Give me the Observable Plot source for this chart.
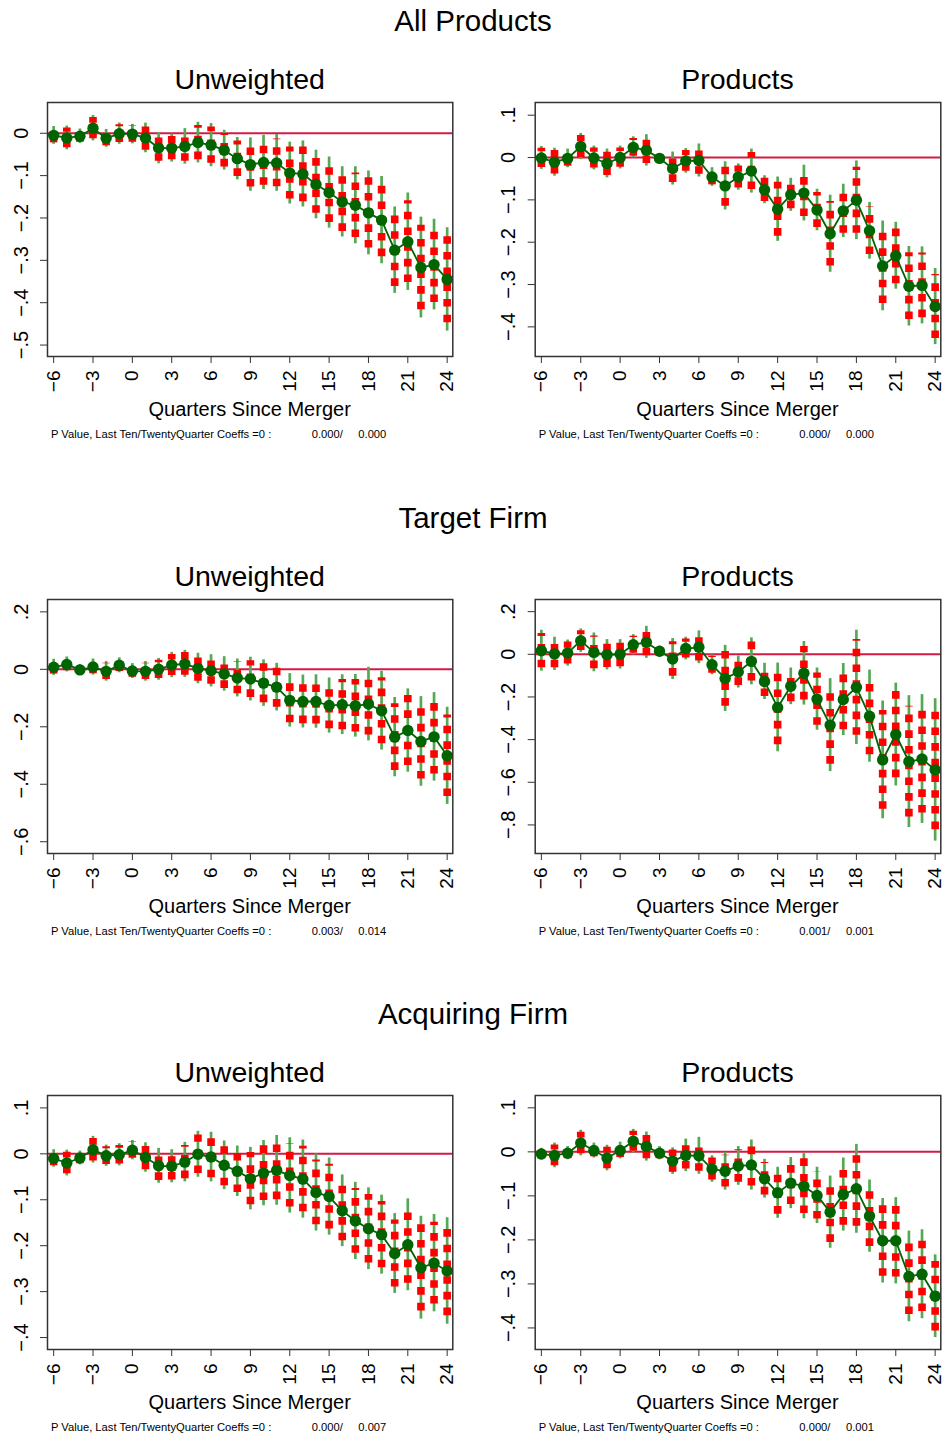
<!DOCTYPE html>
<html>
<head>
<meta charset="utf-8">
<script src="https://cdn.jsdelivr.net/npm/d3@7"></script>
<script src="https://cdn.jsdelivr.net/npm/@observablehq/plot@0.6"></script>
<style>
  html, body { margin: 0; padding: 0; background: #fff; }
  #root { position: relative; width: 942px; height: 1438px; overflow: hidden; font-family: "Liberation Sans", Arial, sans-serif; }
  #root svg { position: absolute; }
</style>
</head>
<body>
<div id="root"></div>
<script>
// ---------------- DATA ----------------
const quarters = [-6,-5,-4,-3,-2,-1,0,1,2,3,4,5,6,7,8,9,10,11,12,13,14,15,16,17,18,19,20,21,22,23,24];
const xTicks = [-6,-3,0,3,6,9,12,15,18,21,24];

const sectionTitles = ["All Products", "Target Firm", "Acquiring Firm"];
const panelTitles = ["Unweighted", "Products"];
const xLabel = "Quarters Since Merger";
const captionPrefix = "P Value, Last Ten/TwentyQuarter Coeffs =0 :";
const pValues = [["0.000","0.000"],["0.000","0.000"],["0.003","0.014"],["0.001","0.001"],["0.000","0.007"],["0.000","0.001"]];

// point estimates and 95% CI half-widths
const allUnwEst = [-0.005,-0.011,-0.007,0.012,-0.012,-0.001,-0.002,-0.011,-0.035,-0.035,-0.031,-0.022,-0.028,-0.040,-0.060,-0.074,-0.069,-0.070,-0.094,-0.096,-0.121,-0.140,-0.162,-0.170,-0.188,-0.205,-0.276,-0.256,-0.317,-0.310,-0.345];
const allUnwCI  = [0.021,0.028,0.017,0.030,0.021,0.025,0.023,0.035,0.037,0.033,0.042,0.048,0.051,0.047,0.050,0.063,0.064,0.067,0.073,0.078,0.081,0.084,0.083,0.091,0.099,0.103,0.102,0.115,0.119,0.107,0.122];
const allProdEst = [-0.001,-0.011,-0.002,0.026,-0.001,-0.014,0.000,0.024,0.017,-0.002,-0.026,-0.008,-0.007,-0.046,-0.067,-0.046,-0.032,-0.076,-0.122,-0.088,-0.084,-0.124,-0.180,-0.126,-0.101,-0.173,-0.256,-0.232,-0.304,-0.302,-0.352];
const allProdCI  = [0.027,0.033,0.022,0.031,0.028,0.034,0.027,0.025,0.037,0.010,0.039,0.029,0.039,0.022,0.057,0.031,0.052,0.033,0.076,0.039,0.066,0.049,0.091,0.063,0.093,0.067,0.106,0.079,0.094,0.091,0.090];
const tgtUnwEst = [0.007,0.017,-0.002,0.008,-0.007,0.014,-0.006,-0.007,0.000,0.015,0.019,0.003,-0.005,-0.016,-0.030,-0.034,-0.048,-0.062,-0.108,-0.112,-0.112,-0.126,-0.123,-0.127,-0.121,-0.144,-0.236,-0.213,-0.251,-0.235,-0.301];
const tgtUnwCI  = [0.028,0.026,0.019,0.028,0.034,0.026,0.026,0.034,0.038,0.044,0.047,0.053,0.056,0.060,0.066,0.076,0.081,0.083,0.093,0.092,0.093,0.096,0.104,0.109,0.128,0.137,0.138,0.145,0.156,0.154,0.169];
const tgtProdEst = [0.017,0.002,0.006,0.064,0.009,-0.002,0.000,0.045,0.056,0.014,-0.022,0.027,0.033,-0.049,-0.113,-0.083,-0.033,-0.127,-0.249,-0.150,-0.089,-0.210,-0.332,-0.212,-0.155,-0.290,-0.495,-0.376,-0.503,-0.491,-0.542];
const tgtProdCI  = [0.096,0.078,0.061,0.055,0.091,0.071,0.069,0.047,0.075,0.024,0.096,0.053,0.077,0.047,0.155,0.075,0.110,0.085,0.208,0.086,0.149,0.146,0.218,0.169,0.268,0.216,0.276,0.241,0.309,0.302,0.334];
const acqUnwEst = [-0.010,-0.020,-0.009,0.009,-0.004,-0.002,0.008,-0.008,-0.026,-0.027,-0.018,-0.001,-0.007,-0.025,-0.038,-0.054,-0.042,-0.036,-0.047,-0.055,-0.084,-0.093,-0.124,-0.146,-0.163,-0.176,-0.217,-0.198,-0.248,-0.238,-0.255];
const acqUnwCI  = [0.019,0.028,0.015,0.029,0.023,0.024,0.021,0.032,0.038,0.036,0.043,0.050,0.054,0.053,0.055,0.068,0.071,0.076,0.082,0.085,0.084,0.084,0.078,0.084,0.089,0.086,0.087,0.100,0.112,0.106,0.116];
const acqProdEst = [-0.005,-0.008,-0.003,0.020,0.003,-0.014,0.003,0.024,0.012,-0.003,-0.021,-0.008,-0.009,-0.039,-0.044,-0.032,-0.030,-0.061,-0.093,-0.071,-0.078,-0.099,-0.137,-0.097,-0.084,-0.146,-0.202,-0.202,-0.283,-0.278,-0.328];
const acqProdCI  = [0.013,0.028,0.015,0.029,0.017,0.029,0.019,0.027,0.033,0.015,0.030,0.037,0.042,0.030,0.043,0.044,0.057,0.044,0.058,0.058,0.074,0.064,0.082,0.083,0.101,0.082,0.096,0.098,0.103,0.101,0.094];

// y tick values per panel
const yTicksAllUnw  = [0,-0.1,-0.2,-0.3,-0.4,-0.5];
const yTicksAllProd = [0.1,0,-0.1,-0.2,-0.3,-0.4];
const yTicksTgtUnw  = [0.2,0,-0.2,-0.4,-0.6];
const yTicksTgtProd = [0.2,0,-0.2,-0.4,-0.6,-0.8];
const yTicksAcqUnw  = [0.1,0,-0.1,-0.2,-0.3,-0.4];
const yTicksAcqProd = [0.1,0,-0.1,-0.2,-0.3,-0.4];

// ---------------- LAYOUT / STYLE ----------------
const Z95 = 1.96, Z90 = 1.645;
const xDomain = [-6.47, 24.43];
const sectionOffsets = [0, 497, 993];
const panelSpecs = [
  {est: allUnwEst,  ci: allUnwCI,  yTicks: yTicksAllUnw,  yDomain: [-0.527, 0.0726]},
  {est: allProdEst, ci: allProdCI, yTicks: yTicksAllProd, yDomain: [-0.470, 0.130]},
  {est: tgtUnwEst,  ci: tgtUnwCI,  yTicks: yTicksTgtUnw,  yDomain: [-0.641, 0.243]},
  {est: tgtProdEst, ci: tgtProdCI, yTicks: yTicksTgtProd, yDomain: [-0.934, 0.257]},
  {est: acqUnwEst,  ci: acqUnwCI,  yTicks: yTicksAcqUnw,  yDomain: [-0.426, 0.127]},
  {est: acqProdEst, ci: acqProdCI, yTicks: yTicksAcqProd, yDomain: [-0.449, 0.128]}
];
const cols = [
  {left: 0,   width: 471, ml: 47,   mr: 18.7},
  {left: 471, width: 471, ml: 63.7, mr: 1.7}
];
const FRAME_TOP = 102, FRAME_H = 254, MT = 7, MB = 48;

const fmtY = d => d === 0 ? "0" : (d < 0 ? "\u2212" : "") + d3.format(".1f")(Math.abs(d)).replace(/^0/, "");

function makePanel(spec, col) {
  const k = Z90 / Z95;
  const rows = quarters.map((q, i) => ({
    q, est: spec.est[i],
    lo95: spec.est[i] - spec.ci[i], hi95: spec.est[i] + spec.ci[i],
    lo90: spec.est[i] - spec.ci[i] * k, hi90: spec.est[i] + spec.ci[i] * k
  }));
  return Plot.plot({
    width: col.width,
    height: MT + FRAME_H + MB,
    marginLeft: col.ml, marginRight: col.mr, marginTop: MT, marginBottom: MB,
    style: {fontFamily: "'Liberation Sans', Arial, sans-serif", background: "transparent", overflow: "visible"},
    x: {domain: xDomain},
    y: {domain: spec.yDomain},
    marks: [
      Plot.ruleY([0], {stroke: "#d21a43", strokeWidth: 2}),
      Plot.ruleX(rows, {x: "q", y1: "lo95", y2: "hi95", stroke: "#55a955", strokeWidth: 2.7}),
      Plot.ruleX(rows, {x: "q", y1: "lo90", y2: "hi90", stroke: "#ff0000", strokeWidth: 7.6, strokeDasharray: "7.6 8.1"}),
      Plot.line(rows, {x: "q", y: "est", stroke: "#006400", strokeWidth: 1.8}),
      Plot.dot(rows, {x: "q", y: "est", r: 5.7, fill: "#006400", stroke: "none"}),
      Plot.frame({stroke: "#333", strokeWidth: 1.5}),
      Plot.axisX({ticks: xTicks, tickRotate: -90, tickSize: 7, tickPadding: 7, fontSize: 19, label: null, stroke: "#333"}),
      Plot.axisY({ticks: spec.yTicks, tickFormat: fmtY, tickRotate: -90, tickSize: 7, tickPadding: 13, fontSize: 20, label: null, stroke: "#333"})
    ]
  });
}

const root = document.getElementById("root");

// text overlay
const overlay = d3.select(root).append("svg")
  .attr("width", 942).attr("height", 1438)
  .style("left", "0px").style("top", "0px")
  .attr("font-family", "'Liberation Sans', Arial, sans-serif");

sectionOffsets.forEach((off, s) => {
  overlay.append("text").attr("x", 473).attr("y", 31 + off)
    .attr("text-anchor", "middle").attr("font-size", 29.5).text(sectionTitles[s]);
  cols.forEach((col, c) => {
    const idx = s * 2 + c;
    const svg = makePanel(panelSpecs[idx], col);
    svg.style.left = col.left + "px";
    svg.style.top = (FRAME_TOP - MT + off) + "px";
    root.appendChild(svg);
    const fx0 = col.left + col.ml, fx1 = col.left + col.width - col.mr;
    const cx = (fx0 + fx1) / 2;
    overlay.append("text").attr("x", cx).attr("y", 89.3 + off)
      .attr("text-anchor", "middle").attr("font-size", 28.5).text(panelTitles[c]);
    overlay.append("text").attr("x", cx).attr("y", 416 + off)
      .attr("text-anchor", "middle").attr("font-size", 20).text(xLabel);
    overlay.append("text").attr("x", fx0 + 4).attr("y", 437.5 + off)
      .attr("font-size", 11.2).attr("xml:space", "preserve").style("white-space", "pre")
      .text(captionPrefix + "             " + pValues[idx][0] + "/     " + pValues[idx][1]);
  });
});
</script>
</body>
</html>
